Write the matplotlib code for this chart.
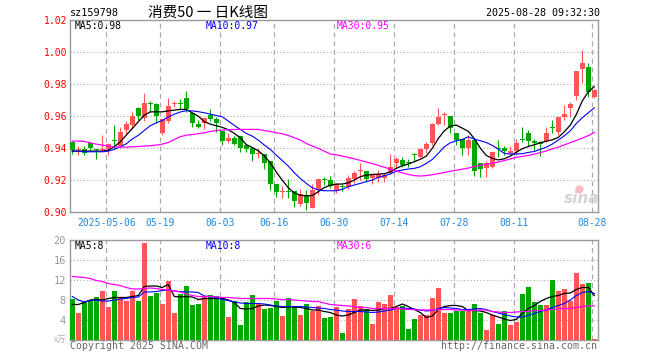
import matplotlib
matplotlib.use("Agg")
import matplotlib.pyplot as plt
import numpy as np

# ================= 数据 =================
code = "sz159798"
title = "消费50 一 日K线图"
stamp = "2025-08-28 09:32:30"

date_idx = [6, 15, 25, 34, 44, 54, 64, 74, 87]
date_labels = ["2025-05-06", "05-19", "06-03", "06-16", "06-30",
               "07-14", "07-28", "08-11", "08-28"]

# 图例上显示的数值
price_legend = ["MA5:0.98", "MA10:0.97", "MA30:0.95"]
vol_legend = ["MA5:8", "MA10:8", "MA30:6"]

opens = [0.9440, 0.9390, 0.9395, 0.9430, 0.9395, 0.9385, 0.9395, 0.9446, 0.9415, 0.9515,
         0.9546, 0.9652, 0.9587, 0.9681, 0.9677, 0.9494, 0.9567, 0.9678, 0.9681, 0.9713,
         0.9619, 0.9552, 0.9558, 0.9608, 0.9581, 0.9504, 0.9446, 0.9463, 0.9477, 0.9417,
         0.9398, 0.9364, 0.9365, 0.9317, 0.9177, 0.9124, 0.9126, 0.9133, 0.9052, 0.9108,
         0.9025, 0.9140, 0.9203, 0.9198, 0.9138, 0.9156, 0.9158, 0.9206, 0.9257, 0.9256,
         0.9215, 0.9210, 0.9210, 0.9246, 0.9304, 0.9325, 0.9309, 0.9357, 0.9342, 0.9394,
         0.9429, 0.9550, 0.9606, 0.9602, 0.9496, 0.9454, 0.9398, 0.9450, 0.9304, 0.9277,
         0.9283, 0.9399, 0.9402, 0.9367, 0.9383, 0.9451, 0.9492, 0.9446, 0.9440, 0.9444,
         0.9530, 0.9498, 0.9592, 0.9648, 0.9725, 0.9894, 0.9908, 0.9721]
highs = [0.9445, 0.9415, 0.9415, 0.9435, 0.9395, 0.9480, 0.9430, 0.9545, 0.9535, 0.9567,
         0.9625, 0.9655, 0.9748, 0.9696, 0.9680, 0.9581, 0.9713, 0.9696, 0.9708, 0.9758,
         0.9620, 0.9577, 0.9590, 0.9646, 0.9594, 0.9505, 0.9494, 0.9473, 0.9478, 0.9418,
         0.9410, 0.9400, 0.9366, 0.9318, 0.9178, 0.9165, 0.9206, 0.9134, 0.9146, 0.9140,
         0.9177, 0.9208, 0.9219, 0.9223, 0.9173, 0.9175, 0.9231, 0.9258, 0.9304, 0.9257,
         0.9240, 0.9262, 0.9246, 0.9363, 0.9346, 0.9342, 0.9329, 0.9367, 0.9398, 0.9440,
         0.9558, 0.9654, 0.9623, 0.9603, 0.9497, 0.9455, 0.9481, 0.9451, 0.9305, 0.9321,
         0.9377, 0.9450, 0.9413, 0.9413, 0.9460, 0.9529, 0.9513, 0.9456, 0.9444, 0.9529,
         0.9575, 0.9592, 0.9669, 0.9690, 0.9881, 1.0013, 0.9933, 0.9767]
lows = [0.9365, 0.9355, 0.9355, 0.9385, 0.9330, 0.9380, 0.9355, 0.9395, 0.9400, 0.9488,
        0.9520, 0.9577, 0.9567, 0.9629, 0.9560, 0.9483, 0.9560, 0.9660, 0.9644, 0.9629,
        0.9531, 0.9525, 0.9520, 0.9567, 0.9498, 0.9421, 0.9435, 0.9421, 0.9375, 0.9373,
        0.9321, 0.9338, 0.9271, 0.9140, 0.9094, 0.9090, 0.9090, 0.9031, 0.9035, 0.9015,
        0.9025, 0.9108, 0.9171, 0.9150, 0.9117, 0.9133, 0.9142, 0.9179, 0.9200, 0.9190,
        0.9175, 0.9190, 0.9190, 0.9242, 0.9273, 0.9283, 0.9283, 0.9315, 0.9341, 0.9371,
        0.9419, 0.9544, 0.9544, 0.9492, 0.9419, 0.9356, 0.9356, 0.9225, 0.9221, 0.9221,
        0.9275, 0.9346, 0.9356, 0.9356, 0.9356, 0.9440, 0.9413, 0.9388, 0.9350, 0.9440,
        0.9492, 0.9481, 0.9575, 0.9596, 0.9700, 0.9810, 0.9721, 0.9713]
closes = [0.9390, 0.9392, 0.9370, 0.9400, 0.9385, 0.9395, 0.9425, 0.9444, 0.9500, 0.9548,
          0.9602, 0.9598, 0.9681, 0.9679, 0.9604, 0.9581, 0.9665, 0.9680, 0.9679, 0.9644,
          0.9556, 0.9535, 0.9590, 0.9581, 0.9560, 0.9446, 0.9463, 0.9427, 0.9400, 0.9396,
          0.9363, 0.9366, 0.9306, 0.9177, 0.9127, 0.9126, 0.9124, 0.9067, 0.9113, 0.9056,
          0.9135, 0.9208, 0.9201, 0.9165, 0.9173, 0.9154, 0.9210, 0.9246, 0.9259, 0.9206,
          0.9238, 0.9237, 0.9231, 0.9283, 0.9329, 0.9294, 0.9307, 0.9355, 0.9394, 0.9425,
          0.9550, 0.9596, 0.9610, 0.9523, 0.9450, 0.9398, 0.9450, 0.9258, 0.9267, 0.9304,
          0.9377, 0.9397, 0.9381, 0.9381, 0.9433, 0.9449, 0.9446, 0.9429, 0.9425, 0.9492,
          0.9528, 0.9592, 0.9613, 0.9675, 0.9881, 0.9933, 0.9752, 0.9763]

ma5 = [0.9381, 0.9381, 0.9381, 0.9381, 0.9381, 0.9381, 0.9387, 0.9408, 0.9440, 0.9481,
       0.9523, 0.9565, 0.9606, 0.9627, 0.9627, 0.9627, 0.9633, 0.9638, 0.9642, 0.9642,
       0.9621, 0.9600, 0.9565, 0.9550, 0.9540,
       0.9530, 0.9515, 0.9492, 0.9465, 0.9422, 0.9404, 0.9383, 0.9352, 0.9308, 0.9250,
       0.9199, 0.9152, 0.9120, 0.9105, 0.9101, 0.9103, 0.9127, 0.9153, 0.9167, 0.9175,
       0.9175, 0.9183, 0.9200, 0.9221, 0.9231, 0.9235, 0.9237, 0.9240, 0.9250, 0.9273,
       0.9290, 0.9300, 0.9315, 0.9330,
       0.9350, 0.9398, 0.9460, 0.9508, 0.9538, 0.9544, 0.9525, 0.9505, 0.9460, 0.9400,
       0.9354, 0.9336, 0.9326, 0.9333, 0.9350, 0.9374, 0.9396, 0.9410, 0.9421, 0.9433,
       0.9443, 0.9452, 0.9467, 0.9502, 0.9544, 0.9610, 0.9695, 0.9752, 0.9785]
ma10 = [0.9383, 0.9381, 0.9377, 0.9377, 0.9377, 0.9377, 0.9381, 0.9392, 0.9408, 0.9427,
        0.9457, 0.9480, 0.9510, 0.9540, 0.9558, 0.9573, 0.9595, 0.9612, 0.9626, 0.9634,
        0.9633, 0.9628, 0.9621, 0.9613, 0.9604,
        0.9596, 0.9569, 0.9542, 0.9517, 0.9492, 0.9475, 0.9450, 0.9419, 0.9392, 0.9356,
        0.9322, 0.9288, 0.9246, 0.9210, 0.9179, 0.9152, 0.9138, 0.9133, 0.9133, 0.9133,
        0.9142, 0.9158, 0.9169, 0.9179, 0.9190, 0.9200, 0.9217, 0.9227, 0.9238, 0.9256,
        0.9263, 0.9269, 0.9273, 0.9283,
        0.9304, 0.9329, 0.9367, 0.9408, 0.9433, 0.9446, 0.9454, 0.9471, 0.9456, 0.9446,
        0.9435, 0.9417, 0.9394, 0.9367, 0.9363, 0.9363, 0.9365, 0.9373, 0.9379, 0.9392,
        0.9406, 0.9425, 0.9450, 0.9477, 0.9508, 0.9554, 0.9590, 0.9621, 0.9652]
ma30 = [0.9444, 0.9444, 0.9442, 0.9433, 0.9425, 0.9419, 0.9413, 0.9408, 0.9406, 0.9406,
        0.9408, 0.9410, 0.9413, 0.9415, 0.9419, 0.9425, 0.9435, 0.9454, 0.9471, 0.9481,
        0.9485, 0.9490, 0.9496, 0.9504, 0.9510,
        0.9513, 0.9515, 0.9517, 0.9517, 0.9517, 0.9517, 0.9517, 0.9510, 0.9504, 0.9496,
        0.9490, 0.9479, 0.9465, 0.9450, 0.9429, 0.9413, 0.9398, 0.9381, 0.9363, 0.9358,
        0.9350, 0.9342, 0.9333, 0.9323, 0.9313, 0.9303, 0.9292, 0.9280, 0.9268, 0.9256,
        0.9245, 0.9235, 0.9228, 0.9225,
        0.9228, 0.9233, 0.9240, 0.9247, 0.9255, 0.9262, 0.9268, 0.9275, 0.9285, 0.9292,
        0.9298, 0.9305, 0.9313, 0.9322, 0.9332, 0.9342, 0.9348, 0.9354, 0.9362, 0.9372,
        0.9382, 0.9395, 0.9406, 0.9420, 0.9434, 0.9448, 0.9462, 0.9478, 0.9498]

# 成交量 (万)
volume = [8.2, 5.5, 7.7, 7.8, 8.6, 9.8, 6.6, 9.8, 8.6, 7.8,
          9.8, 7.8, 19.4, 8.8, 9.4, 7.2, 11.8, 5.4, 9.2, 10.8,
          7.0, 7.2, 8.6, 9.0, 8.8, 8.6, 4.6, 7.8, 3.0, 7.6,
          9.0, 7.2, 6.2, 6.4, 7.8, 4.8, 8.4, 6.7, 5.0, 7.2,
          5.8, 6.8, 4.4, 4.6, 6.6, 1.4, 6.2, 8.2, 6.8, 6.2,
          3.2, 7.6, 7.2, 9.0, 6.6, 6.8, 2.2, 4.2, 5.0, 5.0,
          8.4, 10.4, 5.4, 5.4, 5.8, 5.8, 5.8, 7.2, 5.4, 2.0,
          5.0, 3.2, 5.8, 3.0, 3.6, 9.2, 10.6, 7.6, 7.0, 7.0,
          12.0, 9.8, 10.2, 7.8, 13.4, 11.2, 11.4, 0.2]
vma5 = [7.1, 7.1, 7.5, 8.0, 8.1, 8.0, 8.3, 8.5, 8.5, 8.5, 8.7, 8.9, 10.7, 10.8, 10.8,
        10.5, 11.1, 8.7, 8.6, 8.7, 8.6, 8.1, 8.3, 8.3, 8.3,
        8.3, 8.0, 7.5, 6.3, 6.2, 6.3, 6.8, 7.0, 6.9, 6.7, 6.5, 6.6, 6.6, 6.5, 6.3,
        6.0, 6.0, 5.7, 5.5, 5.0, 4.8, 5.0, 5.5, 6.0, 6.0, 5.9, 6.0, 6.3, 6.3, 6.7,
        7.2, 6.7, 6.1, 5.5,
        4.5, 4.8, 6.1, 6.7, 6.9, 6.9, 6.7, 5.9, 5.9, 5.8, 5.5, 5.0, 4.6, 4.2, 3.9,
        4.1, 5.3, 6.3, 6.9, 7.7, 8.3, 8.7, 8.9, 9.3, 9.4, 10.1, 10.5, 10.5, 8.9]
vma10 = [8.7, 8.0, 7.6, 7.9, 8.0, 7.8, 7.8, 8.0, 8.2, 8.3, 8.5, 8.6, 9.6, 9.6, 9.7,
         9.9, 10.0, 9.8, 9.7, 9.6, 9.6, 9.5, 8.8, 8.7, 8.5,
         8.1, 7.9, 7.6, 7.4, 7.3, 7.3, 7.3, 7.2, 7.0, 6.8, 6.7, 6.7, 6.7, 6.7, 6.6,
         6.5, 6.4, 6.3, 6.1, 6.0, 5.8, 5.7, 5.7, 5.7, 5.6, 5.5, 5.6, 5.8, 6.0, 6.3,
         6.4, 6.3, 6.2, 6.0,
         5.8, 5.9, 6.3, 6.5, 6.4, 6.3, 6.1, 6.1, 6.2, 6.3, 6.1, 5.7, 5.4, 5.1, 4.8,
         4.6, 4.6, 4.9, 5.3, 5.7, 6.0, 6.5, 6.9, 7.3, 8.0, 8.9, 9.5, 9.7, 9.3]
vma30 = [12.7, 12.6, 12.5, 12.3, 11.9, 11.7, 11.3, 11.1, 10.9, 10.5, 10.2, 10.2, 10.3,
         10.4, 10.3, 10.1, 10.0, 9.8, 9.6, 9.2, 8.9, 8.7, 8.7, 8.7, 8.6,
         8.5, 8.5, 8.4, 8.3, 8.3, 8.3, 8.3, 8.3, 8.3, 8.2, 8.1, 8.1, 8.0, 7.9, 7.8,
         7.7, 7.7, 7.4, 7.1, 7.0, 6.9, 6.8, 6.7, 6.5, 6.5, 6.3, 6.3, 6.3, 6.3, 6.3,
         6.2, 6.1, 6.1, 6.0,
         6.0, 6.0, 6.1, 6.1, 6.1, 6.0, 6.0, 5.9, 5.9, 6.0, 6.0, 5.7, 5.6, 5.5, 5.5,
         5.6, 5.7, 5.7, 5.9, 5.9, 6.0, 6.1, 6.3, 6.3, 6.3, 6.5, 6.7, 6.8, 6.8]

# ================= 样式 =================
RED = "#ff5555"
GREEN = "#00a800"
GRID = "#aaaaaa"
FRAME = "#999999"
DATE_C = "#2288dd"
MONO = "DejaVu Sans Mono"
MA_COLORS = ["black", "#0000ff", "#ff00ff"]
LEG_X = [0.0095, 0.2576, 0.5057]

x = np.arange(len(closes))
o = np.array(opens)
c = np.array(closes)
colors = np.where(c >= o, RED, GREEN)

W, H = 660, 360
fig = plt.figure(figsize=(6.6, 3.6), dpi=100)
ax1 = fig.add_axes([70 / W, 1 - 212 / H, 528 / W, 191.7 / H])
ax2 = fig.add_axes([70 / W, 1 - 340 / H, 528 / W, 100 / H])

grid_x = [d - 1 / 3 for d in date_idx]

for ax in (ax1, ax2):
    ax.set_xlim(-0.38, 87.62)
    for s in ax.spines.values():
        s.set_color(FRAME)
        s.set_linewidth(1.0)
    for gx in grid_x:
        ax.axvline(gx, color=GRID, lw=0.9, ls=(0, (4, 3)), zorder=1)

# ---- K线 ----
ax1.set_ylim(0.90, 1.02)
for gy in [0.92, 0.94, 0.96, 0.98, 1.00]:
    ax1.axhline(gy, color=GRID, lw=0.8, ls=(0, (1, 2)), zorder=1)

ax1.vlines(x, lows, highs, colors=colors, lw=0.8, zorder=3)
body = np.maximum(np.abs(c - o), 0.0006)
ax1.bar(x, body, bottom=np.minimum(o, c), width=0.8, color=colors,
        linewidth=0, zorder=4)

for series, col, lw in zip([ma5, ma10, ma30], MA_COLORS, [0.9, 0.8, 0.9]):
    ax1.plot(x, series, color=col, lw=lw, zorder=5)

yt = [0.90, 0.92, 0.94, 0.96, 0.98, 1.00, 1.02]
ax1.set_yticks(yt)
ax1.set_yticklabels([f"{v:.2f}" for v in yt], family=MONO)
ax1.tick_params(axis="y", length=0, pad=2, labelcolor="red", labelsize=7)
ax1.set_xticks(grid_x)
ax1.set_xticklabels(date_labels, family=MONO)
ax1.tick_params(axis="x", length=0, pad=4, labelcolor=DATE_C, labelsize=7)

for txt, col, lx in zip(price_legend, MA_COLORS, LEG_X):
    ax1.text(lx, 0.97, txt, transform=ax1.transAxes, family=MONO,
             fontsize=7, color=col, va="center")

# 水印
ax1.text(0.968, 0.073, "sina", transform=ax1.transAxes, ha="center", va="center",
         fontsize=11, fontstyle="italic", fontweight="bold", color="#d4d4d4", zorder=2)
ax1.plot([0.964], [0.12], transform=ax1.transAxes, marker="o", ms=6,
         color="#f6c0c0", mec="none", zorder=2)

# ---- 成交量 ----
ax2.set_ylim(0, 20)
for gy in [4, 8, 12, 16]:
    ax2.axhline(gy, color=GRID, lw=0.8, ls=(0, (1, 2)), zorder=1)
ax2.bar(x, volume, width=0.8, color=colors, linewidth=0, zorder=3)
for series, col, lw in zip([vma5, vma10, vma30], MA_COLORS, [0.9, 0.8, 0.9]):
    ax2.plot(x, series, color=col, lw=lw, zorder=5)

ax2.set_yticks([4, 8, 12, 16, 20])
ax2.set_yticklabels(["4", "8", "12", "16", "20"], family=MONO)
ax2.tick_params(axis="y", length=0, pad=3, labelcolor="#999999", labelsize=7.5)
ax2.set_xticks([])

for txt, col, lx in zip(vol_legend, MA_COLORS, LEG_X):
    ax2.text(lx, 0.94, txt, transform=ax2.transAxes, family=MONO,
             fontsize=7, color=col, va="center")

# ---- 标题与页脚 ----
fig.text(70 / W, 1 - 13 / H, code, family=MONO, fontsize=7.3, va="center")
fig.text(148 / W, 1 - 13 / H, title, family=["Noto Sans CJK SC", "DejaVu Sans"],
         fontsize=10.5, va="center")
fig.text(600 / W, 1 - 13 / H, stamp, family=MONO, fontsize=7.2, va="center", ha="right")
fig.text(66 / W, 1 - 339.5 / H, "x万", family=["Noto Sans CJK SC", "DejaVu Sans"],
         fontsize=6, color="#aaaaaa", va="center", ha="right")
fig.text(70 / W, 1 - 346 / H, "Copyright 2025 SINA.COM", family=MONO,
         fontsize=7.1, color="#666666", va="center")
fig.text(597 / W, 1 - 346 / H, "http://finance.sina.com.cn", family=MONO,
         fontsize=7.1, color="#666666", va="center", ha="right")

fig.savefig("out.png", dpi=100)
